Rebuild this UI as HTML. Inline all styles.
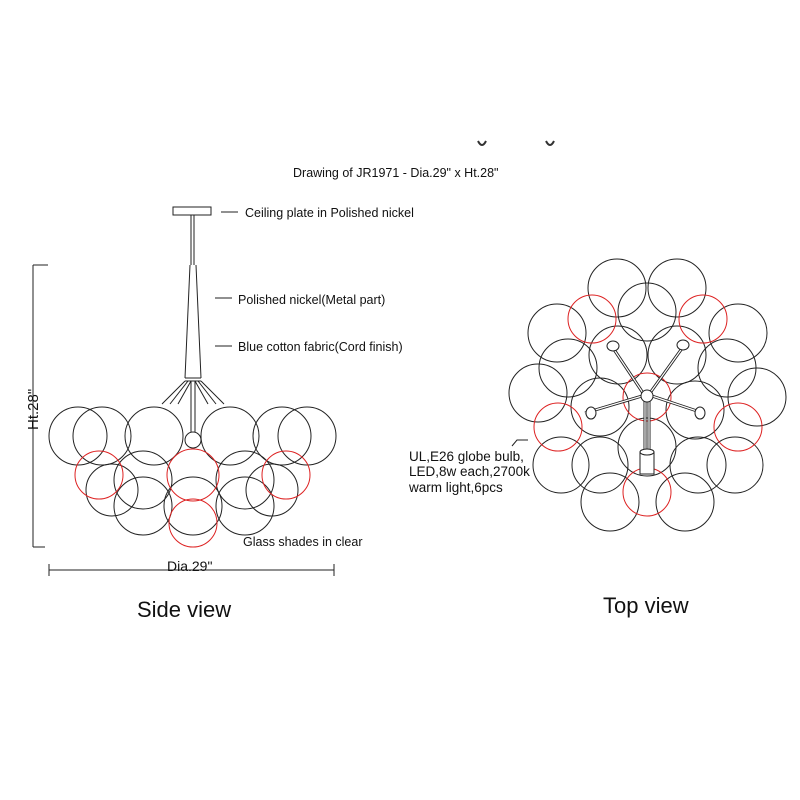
<!DOCTYPE html>
<html><head><meta charset="utf-8"><style>body{margin:0;background:#fff}svg{display:block}text{font-family:"Liberation Sans",Arial,sans-serif;fill:#111}</style></head><body>
<svg width="800" height="800" viewBox="0 0 800 800" xmlns="http://www.w3.org/2000/svg">
<g fill="none" stroke="#222" stroke-width="1">
<path d="M478 141 q4 8 8 0 M546 141 q4 8 8 0" stroke="#333" stroke-width="2"/>
<rect x="173" y="207" width="38" height="8"/>
<path d="M191 215V265M194 215V265M190 265L185 378M196 265L201 378M185 378H201M185 381H201"/>
<path d="M185 381L162 404M188 381L170 404M191 381L178 404M195 381L208 404M198 381L216 404M201 381L224 404M191 381V432M195 381V432"/>
<circle cx="193" cy="440" r="8"/>
<circle cx="78" cy="436" r="29"/><circle cx="102" cy="436" r="29"/><circle cx="154" cy="436" r="29"/>
<circle cx="230" cy="436" r="29"/><circle cx="282" cy="436" r="29"/><circle cx="307" cy="436" r="29"/>
<circle cx="143" cy="480" r="29"/><circle cx="245" cy="480" r="29"/>
<circle cx="112" cy="490" r="26"/><circle cx="272" cy="490" r="26"/>
<circle cx="143" cy="506" r="29"/><circle cx="193" cy="506" r="29"/><circle cx="245" cy="506" r="29"/>
<g stroke="#d22"><circle cx="99" cy="475" r="24"/><circle cx="193" cy="475" r="26"/><circle cx="286" cy="475" r="24"/><circle cx="193" cy="523" r="24"/></g>
<path d="M33 265V547M33 265H48M33 547H45M49 570H334M49 564V576M334 564V576"/>
<path d="M221 212H238M215 298H232M215 346H232M512 446L517 440H528"/>
<g>
<circle cx="617" cy="288" r="29"/><circle cx="677" cy="288" r="29"/><circle cx="647" cy="312" r="29"/>
<circle cx="557" cy="333" r="29"/><circle cx="738" cy="333" r="29"/>
<circle cx="618" cy="355" r="29"/><circle cx="677" cy="355" r="29"/>
<circle cx="568" cy="368" r="29"/><circle cx="727" cy="368" r="29"/>
<circle cx="538" cy="393" r="29"/><circle cx="757" cy="397" r="29"/>
<circle cx="600" cy="407" r="29"/><circle cx="695" cy="410" r="29"/>
<circle cx="647" cy="447" r="29"/>
<circle cx="561" cy="465" r="28"/><circle cx="735" cy="465" r="28"/>
<circle cx="600" cy="465" r="28"/><circle cx="698" cy="465" r="28"/>
<circle cx="610" cy="502" r="29"/><circle cx="685" cy="502" r="29"/>
</g>
<g stroke="#d22"><circle cx="592" cy="319" r="24"/><circle cx="703" cy="319" r="24"/><circle cx="647" cy="397" r="24"/><circle cx="558" cy="427" r="24"/><circle cx="738" cy="427" r="24"/><circle cx="647" cy="492" r="24"/></g>
<path d="M643 393L613 348M650 393L683 347M642 396L585 413M652 396L703 413M645 399V457M649 399V457" stroke-width="3"/>
<path d="M643 393L613 348M650 393L683 347M642 396L585 413M652 396L703 413M645 399V457M649 399V457" stroke="#fff" stroke-width="1.2"/>
<circle cx="647" cy="396" r="6" fill="#fff"/>
<g fill="#fff"><ellipse cx="613" cy="346" rx="6" ry="5"/><ellipse cx="683" cy="345" rx="6" ry="5"/><ellipse cx="591" cy="413" rx="5" ry="6"/><ellipse cx="700" cy="413" rx="5" ry="6"/><rect x="640" y="452" width="14" height="22"/><ellipse cx="647" cy="452" rx="7" ry="3"/></g>
</g>
<g font-size="12.5">
<text x="293" y="177">Drawing of JR1971 - Dia.29" x Ht.28"</text>
<text x="245" y="217">Ceiling plate in Polished nickel</text>
<text x="238" y="304">Polished nickel(Metal part)</text>
<text x="238" y="351">Blue cotton fabric(Cord finish)</text>
<text x="243" y="546">Glass shades in clear</text>
<text x="167" y="571" font-size="14">Dia.29"</text>
<text x="409" y="461" font-size="13.5">UL,E26 globe bulb,</text>
<text x="409" y="476" font-size="13.5">LED,8w each,2700k</text>
<text x="409" y="492" font-size="13.5">warm light,6pcs</text>
<text transform="translate(38,430) rotate(-90)" font-size="15">Ht.28"</text>
</g>
<text x="137" y="617" font-size="22">Side view</text>
<text x="603" y="613" font-size="22">Top view</text>
</svg>
</body></html>
